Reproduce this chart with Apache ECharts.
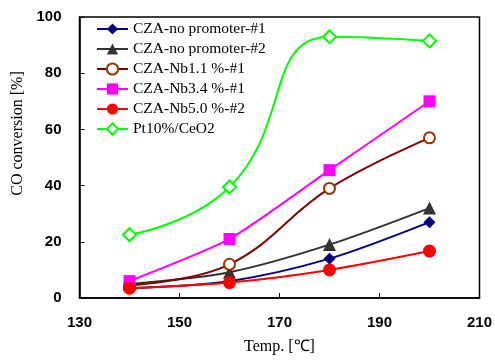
<!DOCTYPE html>
<html>
<head>
<meta charset="utf-8">
<script src="https://cdn.jsdelivr.net/npm/echarts@6/dist/echarts.min.js"></script>
<style>
  html, body { margin: 0; padding: 0; background: #fff; }
  #chart { width: 495px; height: 360px; }
</style>
</head>
<body>
<div id="chart"></div>
<script>
// 温度 (°C)
const temps = [140, 160, 180, 200];

// CO 转化率 (%)
const noPromoter1 = [3.5, 6, 14, 27];
const noPromoter2 = [5, 9.2, 19, 32];
const nb11 = [4.5, 12, 39, 57];
const nb34 = [6, 21, 45.5, 70];
const nb50 = [3.5, 5.5, 10, 16.7];
const ptCeO2 = [22.5, 39.5, 93, 91.5];

const seriesNames = [
    'CZA-no promoter-#1',
    'CZA-no promoter-#2',
    'CZA-Nb1.1 %-#1',
    'CZA-Nb3.4 %-#1',
    'CZA-Nb5.0 %-#2',
    'Pt10%/CeO2'
];

const pairs = (ys) => temps.map((t, i) => [t, ys[i]]);

const chart = echarts.init(document.getElementById('chart'));

const option = {
    animation: false,
    grid: {
        left: 79.5,
        right: 13.5,
        top: 17,
        bottom: 60,
        show: true,
        borderColor: '#000',
        borderWidth: 1.5
    },
    legend: {
        orient: 'vertical',
        left: 91,
        top: 16,
        itemWidth: 31,
        itemHeight: 14,
        itemGap: 4,
        textStyle: {
            fontFamily: 'Liberation Serif',
            fontSize: 15.5,
            lineHeight: 14,
            color: '#000'
        },
        data: seriesNames
    },
    xAxis: {
        type: 'value',
        min: 130,
        max: 210,
        interval: 20,
        name: 'Temp. [℃]',
        nameLocation: 'middle',
        nameGap: 41,
        nameTextStyle: { fontFamily: 'Liberation Serif', fontSize: 16, color: '#000' },
        axisLine: { lineStyle: { color: '#000', width: 1.5 } },
        axisTick: { inside: true, length: 5, lineStyle: { color: '#000' } },
        axisLabel: { fontFamily: 'Liberation Sans', fontWeight: 'bold', fontSize: 15, color: '#000', margin: 17 },
        splitLine: { show: false }
    },
    yAxis: {
        type: 'value',
        min: 0,
        max: 100,
        interval: 20,
        name: 'CO conversion [%]',
        nameLocation: 'middle',
        nameGap: 53,
        nameTextStyle: { fontFamily: 'Liberation Serif', fontSize: 16, color: '#000', padding: [0, 0, 0, 48] },
        axisLine: { lineStyle: { color: '#000', width: 1.5 } },
        axisTick: { inside: true, length: 5, lineStyle: { color: '#000' } },
        axisLabel: { fontFamily: 'Liberation Sans', fontWeight: 'bold', fontSize: 15, color: '#000', margin: 18 },
        splitLine: { show: false }
    },
    series: [
        {
            name: seriesNames[0], type: 'line', data: pairs(noPromoter1), smooth: 0.3,
            symbol: 'diamond', symbolSize: 12,
            lineStyle: { color: '#000080', width: 2 },
            itemStyle: { color: '#000080' }
        },
        {
            name: seriesNames[1], type: 'line', data: pairs(noPromoter2), smooth: 0.3,
            symbol: 'triangle', symbolSize: 13,
            lineStyle: { color: '#333333', width: 2 },
            itemStyle: { color: '#333333' }
        },
        {
            name: seriesNames[2], type: 'line', data: pairs(nb11), smooth: 0.4,
            symbol: 'emptyCircle', symbolSize: 11,
            lineStyle: { color: '#800000', width: 2 },
            itemStyle: { color: '#993300', borderWidth: 1.5 }
        },
        {
            name: seriesNames[3], type: 'line', data: pairs(nb34), smooth: 0.2,
            symbol: 'rect', symbolSize: 12,
            lineStyle: { color: '#FF00FF', width: 2 },
            itemStyle: { color: '#FF00FF' }
        },
        {
            name: seriesNames[4], type: 'line', data: pairs(nb50), smooth: 0.3,
            symbol: 'circle', symbolSize: 13,
            lineStyle: { color: '#FF0000', width: 2 },
            itemStyle: { color: '#FF0000' }
        },
        {
            name: seriesNames[5], type: 'line', data: pairs(ptCeO2), smooth: 0.5,
            symbol: 'emptyDiamond', symbolSize: 13,
            lineStyle: { color: '#00FF00', width: 2 },
            itemStyle: { color: '#00FF00', borderWidth: 1.5 }
        }
    ]
};

chart.setOption(option);
</script>
</body>
</html>
